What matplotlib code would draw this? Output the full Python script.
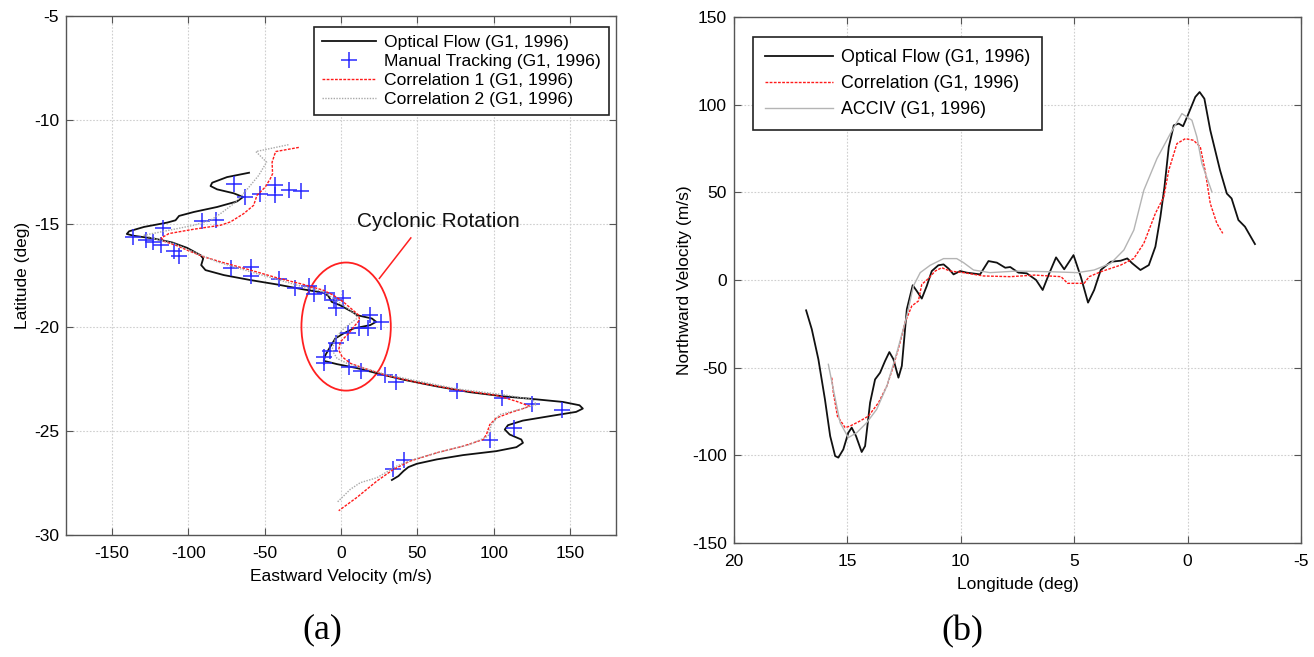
import numpy as np
import matplotlib
matplotlib.use("Agg")
import matplotlib.pyplot as plt
from matplotlib.patches import Ellipse

plt.rcParams["font.family"] = ["Liberation Sans", "DejaVu Sans"]
plt.rcParams["axes.unicode_minus"] = False

# ---------------- (a) Eastward velocity vs latitude ----------------
of_a_u = [-60.2, -74.6, -84.3, -85.4, -81.1, -70.2, -64.1, -68.0, -81.1, -96.3, -106.0, -108.3,
          -113.7, -128.9, -138.7, -140.2, -135.4, -122.4, -110.4, -100.7, -92.0, -90.2, -91.5,
          -88.7, -76.7, -59.3, -42.0, -24.6, -11.5, -8.3, -6.1, -0.7, 8.0, 10.4, 20.2, 23.0,
          19.1, 8.3, 1.7, -3.7, -7.0, -10.2, -11.3, -2.6, 10.4, 25.7, 40.9, 62.6, 84.3, 106.1,
          125.7, 145.2, 156.1, 158.3, 153.9, 138.7, 119.0, 109.3, 107.2, 110.4, 118.0, 119.1,
          114.8, 101.7, 80.0, 62.6, 49.6, 44.1, 40.9, 37.6, 33.3]
of_a_lat = [-12.55, -12.76, -13.03, -13.19, -13.35, -13.54, -13.72, -13.93, -14.20, -14.44, -14.63,
            -14.84, -14.95, -15.16, -15.37, -15.50, -15.59, -15.72, -15.91, -16.17, -16.52, -16.68,
            -17.00, -17.24, -17.48, -17.72, -17.93, -18.17, -18.33, -18.48, -18.77, -18.93, -19.28,
            -19.41, -19.57, -19.73, -19.89, -20.05, -20.29, -20.53, -20.93, -21.33, -21.61, -21.77,
            -21.96, -22.25, -22.52, -22.84, -23.12, -23.32, -23.45, -23.59, -23.75, -23.91, -24.07,
            -24.25, -24.49, -24.71, -24.92, -25.16, -25.40, -25.56, -25.77, -25.96, -26.15, -26.36,
            -26.57, -26.73, -26.92, -27.16, -27.35]

corr1_u = [-27.6, -42.8, -45.1, -44.8, -46.3, -49.6, -55.0, -57.2, -63.7, -72.4, -78.9, -96.3,
           -112.6, -117.6, -115.9, -107.2, -100.7, -89.8, -78.9, -59.3, -42.0, -24.6, -11.5, -5.0,
           1.5, 9.1, 11.5, 12.2, 9.3, 5.0, -0.4, -1.5, 0.7, 6.1, 14.8, 30.0, 51.7, 75.7, 101.7,
           114.8, 123.5, 119.1, 110.4, 101.7, 97.4, 95.2, 93.0, 80.0, 62.6, 45.2, 34.3, 23.5,
           10.4, -1.5]
corr1_lat = [-11.33, -11.53, -12.04, -12.60, -12.84, -13.24, -13.64, -14.12, -14.52, -14.92, -15.08,
             -15.27, -15.48, -15.69, -15.85, -16.07, -16.28, -16.60, -16.84, -17.24, -17.61, -17.93,
             -18.21, -18.45, -18.77, -19.25, -19.41, -19.65, -19.89, -20.29, -20.69, -21.09, -21.41,
             -21.73, -21.96, -22.32, -22.68, -23.00, -23.27, -23.56, -23.80, -23.91, -24.12, -24.36,
             -24.68, -25.16, -25.40, -25.72, -26.04, -26.44, -26.84, -27.40, -28.19, -28.83]

corr2_u = [-34.4, -55.7, -48.7, -53.9, -59.3, -64.8, -70.2, -78.9, -85.4, -96.3, -115.9, -128.9,
           -122.4, -109.3, -94.1, -81.1, -59.3, -28.9, -11.5, -5.0, 1.5, 10.2, 10.4, 6.1, 0.7,
           -3.7, -5.9, -2.6, 3.9, 30.0, 75.7, 106.1, 125.7, 127.8, 119.1, 103.9, 98.5, 96.3,
           84.3, 67.0, 47.4, 36.5, 23.5, 12.6, 6.1, -2.6]
corr2_lat = [-11.20, -11.53, -12.04, -12.68, -13.16, -13.64, -14.04, -14.52, -14.84, -15.08, -15.37,
             -15.56, -15.72, -15.96, -16.44, -16.84, -17.32, -17.96, -18.29, -18.61, -18.93, -19.41,
             -19.57, -19.81, -20.13, -20.53, -21.09, -21.49, -21.73, -22.28, -22.96, -23.24, -23.48,
             -23.72, -23.91, -24.20, -24.68, -25.24, -25.64, -25.96, -26.36, -26.68, -27.24, -27.48,
             -27.80, -28.43]

manual_u = [-70.2, -62.6, -52.8, -43.5, -43.5, -34.3, -26.3, -90.9, -81.5, -116.3, -136.1, -127.8,
            -122.8, -117.6, -109.3, -106.1, -72.0, -58.9, -58.9, -40.9, -30.0, -20.7, -17.6, -10.4,
            -4.6, 1.5, -3.3, 19.1, 26.3, 11.5, 17.6, 4.3, -3.3, -7.4, -11.3, -11.3, 5.4, 13.0,
            28.9, 36.1, 76.1, 105.7, 125.2, 144.8, 113.0, 97.8, 41.3, 33.9]
manual_lat = [-13.11, -13.72, -13.56, -13.13, -13.60, -13.37, -13.45, -14.89, -14.84, -15.19, -15.64,
              -15.80, -15.91, -16.04, -16.33, -16.55, -17.13, -17.08, -17.52, -17.68, -18.08, -18.00,
              -18.41, -18.32, -18.69, -18.57, -19.05, -19.41, -19.73, -20.02, -20.05, -20.29, -20.77,
              -21.13, -21.41, -21.73, -21.89, -22.09, -22.28, -22.65, -23.08, -23.40, -23.67, -23.99,
              -24.84, -25.40, -26.41, -26.84]

# ---------------- (b) Northward velocity vs longitude ----------------
of_b_lon = [16.82, 16.57, 16.28, 15.99, 15.76, 15.54, 15.40, 15.18, 14.96, 14.81, 14.62, 14.37,
            14.22, 14.00, 13.78, 13.56, 13.34, 13.15, 12.97, 12.75, 12.60, 12.38, 12.12, 11.94,
            11.72, 11.50, 11.28, 10.99, 10.76, 10.54, 10.32, 10.03, 9.74, 9.15, 8.78, 8.41, 8.04,
            7.82, 7.46, 7.09, 6.68, 6.39, 6.10, 5.80, 5.44, 5.03, 4.71, 4.39, 4.12, 3.83, 3.39,
            2.95, 2.66, 2.44, 2.08, 1.71, 1.42, 1.20, 1.02, 0.83, 0.61, 0.39, 0.20, -0.04, -0.34,
            -0.53, -0.74, -1.00, -1.43, -1.73, -1.94, -2.24, -2.53, -2.97]
of_b_v = [-17.3, -28.1, -45.2, -68.1, -89.0, -100.4, -101.3, -96.6, -87.1, -84.2, -89.0, -98.1,
          -94.7, -70.0, -56.7, -52.9, -46.2, -41.1, -45.2, -55.7, -49.0, -16.7, -3.0, -6.3, -10.6,
          -3.4, 5.1, 8.4, 8.9, 6.5, 3.2, 5.1, 4.2, 3.2, 10.8, 9.9, 7.0, 7.4, 4.2, 3.8, 0.0, -5.7,
          3.8, 12.9, 6.1, 14.2, 1.9, -12.9, -5.7, 5.7, 10.4, 11.0, 12.3, 9.5, 5.7, 8.5, 19.0,
          36.0, 53.1, 75.9, 88.2, 89.2, 87.7, 94.9, 104.4, 107.2, 103.4, 85.4, 62.6, 49.3, 46.5,
          34.2, 30.4, 20.5]

corr_b_lon = [15.69, 15.62, 15.44, 15.10, 14.88, 14.44, 14.07, 13.63, 13.26, 12.97, 12.68, 12.46,
              12.16, 11.87, 11.72, 11.43, 11.13, 10.84, 10.47, 9.88, 9.00, 7.82, 6.75, 5.58, 5.29,
              4.56, 4.34, 3.83, 2.95, 2.37, 1.93, 1.42, 1.05, 0.83, 0.47, 0.10, -0.26, -0.56,
              -0.77, -1.00, -1.29, -1.55]
corr_b_v = [-55.7, -64.3, -77.6, -84.2, -83.3, -80.4, -77.6, -70.0, -60.5, -49.0, -35.7, -24.3,
            -14.8, -12.0, -2.5, 0.8, 5.1, 7.0, 5.1, 4.2, 2.3, 1.9, 2.8, 1.9, -1.9, -1.9, 1.9, 4.7,
            8.5, 12.3, 20.9, 38.0, 47.4, 62.6, 77.8, 80.6, 79.7, 75.9, 62.6, 43.6, 32.3, 26.6]

acciv_lon = [15.84, 15.62, 15.32, 14.96, 14.59, 14.15, 13.71, 13.26, 12.82, 12.38, 12.09, 11.79,
             11.35, 10.76, 10.18, 9.88, 9.44, 8.71, 7.53, 6.02, 4.85, 4.12, 3.39, 2.81, 2.37,
             1.93, 1.35, 0.76, 0.25, 0.03, -0.19, -0.41, -0.63, -1.07]
acciv_v = [-48.1, -62.4, -81.4, -89.9, -87.1, -81.4, -73.8, -60.5, -41.4, -20.5, -3.4, 4.2, 8.4,
           12.2, 12.2, 9.9, 5.7, 4.2, 5.1, 4.7, 4.2, 5.7, 9.5, 17.1, 28.5, 51.2, 69.3, 83.5, 94.9,
           93.0, 91.1, 81.6, 66.4, 50.3]

W, H = 1314, 657
fig = plt.figure(figsize=(W / 100, H / 100), dpi=100)
fig.patch.set_facecolor("white")

TICK_FS = 12.5
LABEL_FS = 12.5


def style_axes(ax):
    ax.grid(True, color="#cfcfcf", linestyle=(0, (1.5, 1.5)), linewidth=0.8)
    ax.set_axisbelow(True)
    ax.tick_params(direction="in", top=True, right=True, length=5, width=0.8,
                   labelsize=TICK_FS, color="#555555")
    ax.tick_params(axis="x", pad=8)
    ax.tick_params(axis="y", pad=5)
    for sp in ax.spines.values():
        sp.set_color("#555555")
        sp.set_linewidth(1.0)


# Panel (a)
ax1 = fig.add_axes([66 / W, 1 - 535 / H, 550 / W, 519 / H])
ax1.plot(of_a_u, of_a_lat, color="#111111", lw=1.3, label="Optical Flow (G1, 1996)")
ax1.plot(manual_u, manual_lat, linestyle="none", marker="+", color="#2a2aff",
         markersize=11, markeredgewidth=1.1, label="Manual Tracking (G1, 1996)")
ax1.plot(corr1_u, corr1_lat, color="#ff1a1a", lw=1.0, linestyle=(0, (2, 1)),
         label="Correlation 1 (G1, 1996)")
ax1.plot(corr2_u, corr2_lat, color="#a8a8a8", lw=1.0, linestyle=(0, (1, 1)),
         label="Correlation 2 (G1, 1996)")
ax1.add_patch(Ellipse((3.35, -19.96), 58.5, 6.17, fill=False, edgecolor="#ff2020", lw=1.3))
ax1.plot([25.1, 45.7], [-17.64, -15.69], color="#ff2020", lw=1.1)
ax1.text(63.6, -14.9, "Cyclonic Rotation", fontsize=15, ha="center", va="center",
         color="#111111")
ax1.set_xlim(-180, 180)
ax1.set_ylim(-30, -5)
ax1.set_xticks(np.arange(-150, 151, 50))
ax1.set_yticks(np.arange(-30, -4, 5))
ax1.set_xlabel("Eastward Velocity (m/s)", fontsize=LABEL_FS, labelpad=6)
ax1.set_ylabel("Latitude (deg)", fontsize=LABEL_FS, labelpad=3)
style_axes(ax1)
leg1 = ax1.legend(loc="upper right", bbox_to_anchor=(0.987, 0.979), borderaxespad=0,
                  fontsize=12.6, frameon=True, fancybox=False, framealpha=1,
                  edgecolor="#222222", handlelength=3.1, handletextpad=0.45,
                  labelspacing=0.22, borderpad=0.45, numpoints=1)
leg1.get_frame().set_linewidth(1.2)

# Panel (b)
ax2 = fig.add_axes([734 / W, 1 - 543 / H, 567 / W, 526 / H])
ax2.plot(of_b_lon, of_b_v, color="#111111", lw=1.3, label="Optical Flow (G1, 1996)")
ax2.plot(corr_b_lon, corr_b_v, color="#ff1a1a", lw=1.0, linestyle=(0, (2, 1)),
         label="Correlation (G1, 1996)")
ax2.plot(acciv_lon, acciv_v, color="#b4b4b4", lw=1.0, label="ACCIV (G1, 1996)")
ax2.set_xlim(20, -5)
ax2.set_ylim(-150, 150)
ax2.set_xticks(np.arange(20, -6, -5))
ax2.set_yticks(np.arange(-150, 151, 50))
ax2.set_xlabel("Longitude (deg)", fontsize=LABEL_FS, labelpad=6)
ax2.set_ylabel("Northward Velocity (m/s)", fontsize=LABEL_FS, labelpad=0)
style_axes(ax2)
leg2 = ax2.legend(loc="upper left", bbox_to_anchor=(0.033, 0.962), borderaxespad=0,
                  fontsize=12.9, frameon=True, fancybox=False, framealpha=1,
                  edgecolor="#222222", handlelength=3.8, handletextpad=0.45,
                  labelspacing=0.5, borderpad=0.68)
leg2.get_frame().set_linewidth(1.2)

fig.text(322 / W, 1 - 630 / H, "(a)", fontsize=26, ha="center", va="center",
         family=["Liberation Serif", "DejaVu Serif"])
fig.text(962 / W, 1 - 632 / H, "(b)", fontsize=26, ha="center", va="center",
         family=["Liberation Serif", "DejaVu Serif"])

fig.savefig("out.png", dpi=100, facecolor="white")
